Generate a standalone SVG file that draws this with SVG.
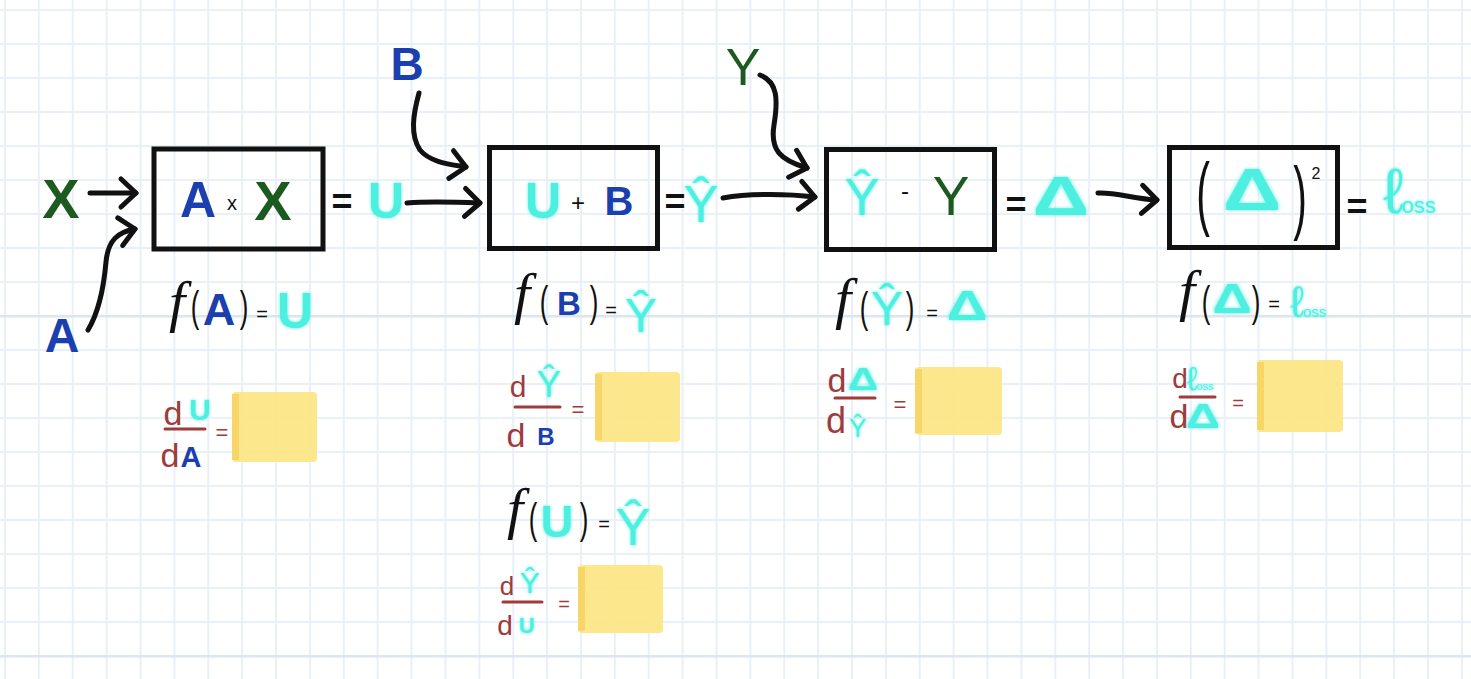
<svg xmlns="http://www.w3.org/2000/svg" width="1471" height="679" viewBox="0 0 1471 679">
<defs>
<pattern id="grid" patternUnits="userSpaceOnUse" x="4" y="9" width="33.88" height="34">
<rect x="0" y="0" width="2" height="34" fill="#e9f0f7"/>
<rect x="0" y="0" width="33.88" height="2" fill="#e9f0f7"/>
</pattern>
<filter id="glow" x="-20%" y="-20%" width="140%" height="140%">
<feGaussianBlur in="SourceGraphic" stdDeviation="1.6" result="b"/>
<feMerge><feMergeNode in="b"/><feMergeNode in="SourceGraphic"/></feMerge>
</filter>
<marker id="ah" markerUnits="userSpaceOnUse" markerWidth="44" markerHeight="44" viewBox="-24 -22 30 44" refX="0" refY="0" orient="auto">
<path d="M-15,-14 L0,0 L-15,14" fill="none" stroke="#111" stroke-width="5" stroke-linecap="round" stroke-linejoin="round"/>
</marker>
</defs>
<style>
text{font-family:"Liberation Sans","DejaVu Sans",sans-serif}
.box{fill:none;stroke:#111;stroke-width:5}
.blue{fill:#1b3fae;font-weight:bold}
.green{fill:#1d5a1f;font-weight:bold}
.greent{fill:#1d5a1f}
.cyan{fill:#4ef0e0;filter:url(#glow)}
.cyanb{fill:#4ef0e0;font-weight:bold;filter:url(#glow)}
.blk{fill:#111}
.eq{fill:#111;font-weight:bold}
.red{fill:#9e3b3b}
.f{fill:#111;font-family:"Liberation Serif","DejaVu Serif",serif;font-style:italic}
.frac{stroke:#9e3b3b;stroke-width:3;stroke-linecap:round}
.hl{fill:#fce480;opacity:0.9}
.hle{fill:#f5d25e;opacity:0.8}
.conn path{fill:none;stroke:#111;stroke-width:5;stroke-linecap:round;marker-end:url(#ah)}
</style>
<rect width="1471" height="679" fill="#ffffff"/>
<rect width="1471" height="679" fill="url(#grid)"/>
<rect x="0" y="315" width="1471" height="2.5" fill="#dbe6f0"/>
<rect x="0" y="655" width="1471" height="2.5" fill="#dbe6f0"/>

<g id="connectors" class="conn">
<path d="M90,193 L136,193"/>
<path d="M88,330 C100,310 104,285 106,262 C108,240 118,232 135,229"/>
<path d="M407,203 C430,201 455,202 480,203"/>
<path d="M419,93 C413,115 410,135 420,150 C430,162 448,164 466,167"/>
<path d="M723,198 C750,193 790,194 815,197"/>
<path d="M760,75 C778,82 778,100 774,125 C770,150 780,160 807,168"/>
<path d="M1098,193 C1115,192 1135,199 1157,200"/>
</g>

<g id="input-x"><text class="green" x="61" y="218" font-size="56" text-anchor="middle">X</text></g>
<g id="input-a"><text class="blue" x="62" y="352" font-size="48" text-anchor="middle">A</text></g>
<g id="input-b"><text class="blue" x="407" y="80" font-size="46" text-anchor="middle">B</text></g>
<g id="input-y"><text class="greent" x="743" y="85" font-size="52" text-anchor="middle">Y</text></g>

<g id="box1">
<rect class="box" x="154" y="149" width="169" height="100"/>
<text class="blue" x="198" y="217" font-size="50" text-anchor="middle">A</text>
<text class="blk" x="232" y="210" font-size="20" text-anchor="middle">x</text>
<text class="green" x="273" y="220" font-size="56" text-anchor="middle">X</text>
</g>
<g id="out-u">
<text class="eq" x="342" y="214" font-size="36" text-anchor="middle">=</text>
<text class="cyanb" x="386" y="218" font-size="50" text-anchor="middle">U</text>
</g>

<g id="box2">
<rect class="box" x="489.5" y="147.5" width="168" height="101"/>
<text class="cyanb" x="543" y="218" font-size="50" text-anchor="middle">U</text>
<text class="blk" x="578" y="211" font-size="24" text-anchor="middle">+</text>
<text class="blue" x="619" y="215" font-size="40" text-anchor="middle">B</text>
</g>
<g id="out-yhat">
<text class="eq" x="675" y="214" font-size="36" text-anchor="middle">=</text>
<text class="cyan" x="701" y="222" font-size="52" text-anchor="middle">Ŷ</text>
</g>

<g id="box3">
<rect class="box" x="826.5" y="149.5" width="168" height="100"/>
<text class="cyan" x="862" y="215" font-size="52" text-anchor="middle">Ŷ</text>
<text class="blk" x="905" y="199" font-size="24" text-anchor="middle">-</text>
<text class="greent" x="951" y="215" font-size="55" text-anchor="middle">Y</text>
</g>
<g id="out-delta">
<text class="eq" x="1016" y="217" font-size="36" text-anchor="middle">=</text>
<text class="cyanb" transform="translate(1061,215) scale(1.4,1)" font-size="56" text-anchor="middle">Δ</text>
</g>

<g id="box4">
<rect class="box" x="1169.5" y="147.5" width="168" height="100"/>
<text class="blk" transform="translate(1203,220) scale(0.5,1)" font-size="82" text-anchor="middle">(</text>
<text class="blk" transform="translate(1300,224) scale(0.5,1)" font-size="82" text-anchor="middle">)</text>
<text class="blk" x="1316" y="179" font-size="16" text-anchor="middle">2</text>
<text class="cyanb" transform="translate(1252,210) scale(1.35,1)" font-size="60" text-anchor="middle">Δ</text>
</g>
<g id="out-loss">
<text class="eq" x="1357" y="219" font-size="36" text-anchor="middle">=</text>
<text class="cyan" x="1383" y="213" font-family="DejaVu Sans" font-size="64">ℓ<tspan font-size="22" dx="-2">oss</tspan></text>
</g>

<g id="fn-a">
<text class="f" x="177" y="321" font-size="58" text-anchor="middle">f</text>
<text class="blk" transform="translate(195,321) scale(0.6,1)" font-size="43" text-anchor="middle">(</text>
<text class="blue" x="219" y="325" font-size="45" text-anchor="middle">A</text>
<text class="blk" transform="translate(244,321) scale(0.6,1)" font-size="43" text-anchor="middle">)</text>
<text class="blk" x="262" y="321" font-size="20" text-anchor="middle">=</text>
<text class="cyanb" x="295" y="328" font-size="50" text-anchor="middle">U</text>
</g>

<g id="grad-a">
<text class="red" x="173" y="425" font-size="34" text-anchor="middle">d</text>
<text class="cyanb" x="200" y="420" font-size="30" text-anchor="middle">U</text>
<line class="frac" x1="165" y1="429" x2="205" y2="429"/>
<text class="red" x="170" y="467" font-size="34" text-anchor="middle">d</text>
<text class="blue" x="191" y="467" font-size="29" text-anchor="middle">A</text>
<text class="red" x="222" y="440" font-size="22" text-anchor="middle">=</text>
<rect class="hl" x="232" y="392" width="85" height="70" rx="4"/>
<rect class="hle" x="232" y="394" width="7" height="66"/>
</g>

<g id="fn-b">
<text class="f" x="522" y="313" font-size="58" text-anchor="middle">f</text>
<text class="blk" transform="translate(544,316) scale(0.6,1)" font-size="43" text-anchor="middle">(</text>
<text class="blue" x="569" y="315" font-size="33" text-anchor="middle">B</text>
<text class="blk" transform="translate(594,316) scale(0.6,1)" font-size="43" text-anchor="middle">)</text>
<text class="blk" x="611" y="317" font-size="20" text-anchor="middle">=</text>
<text class="cyan" x="641" y="332" font-size="48" text-anchor="middle">Ŷ</text>
</g>

<g id="grad-b">
<text class="red" x="518" y="397" font-size="30" text-anchor="middle">d</text>
<text class="cyan" x="549" y="397" font-size="36" text-anchor="middle">Ŷ</text>
<line class="frac" x1="515" y1="407" x2="560" y2="407"/>
<text class="red" x="516" y="447" font-size="34" text-anchor="middle">d</text>
<text class="blue" x="546" y="445" font-size="24" text-anchor="middle">B</text>
<text class="red" x="578" y="417" font-size="22" text-anchor="middle">=</text>
<rect class="hl" x="595" y="372" width="85" height="70" rx="4"/>
<rect class="hle" x="595" y="374" width="7" height="66"/>
</g>

<g id="fn-u">
<text class="f" x="515" y="528" font-size="58" text-anchor="middle">f</text>
<text class="blk" transform="translate(533,533) scale(0.6,1)" font-size="43" text-anchor="middle">(</text>
<text class="cyanb" x="557" y="537" font-size="45" text-anchor="middle">U</text>
<text class="blk" transform="translate(584,533) scale(0.6,1)" font-size="43" text-anchor="middle">)</text>
<text class="blk" x="604" y="531" font-size="20" text-anchor="middle">=</text>
<text class="cyan" x="633" y="545" font-size="52" text-anchor="middle">Ŷ</text>
</g>

<g id="grad-u">
<text class="red" x="507" y="595" font-size="26" text-anchor="middle">d</text>
<text class="cyan" x="530" y="593" font-size="30" text-anchor="middle">Ŷ</text>
<line class="frac" x1="503" y1="602" x2="542" y2="602"/>
<text class="red" x="505" y="635" font-size="28" text-anchor="middle">d</text>
<text class="cyanb" x="527" y="633" font-size="22" text-anchor="middle">U</text>
<text class="red" x="564" y="611" font-size="20" text-anchor="middle">=</text>
<rect class="hl" x="578" y="565" width="85" height="68" rx="4"/>
<rect class="hle" x="578" y="567" width="7" height="64"/>
</g>

<g id="fn-yhat">
<text class="f" x="843" y="318" font-size="58" text-anchor="middle">f</text>
<text class="blk" transform="translate(864,322) scale(0.6,1)" font-size="43" text-anchor="middle">(</text>
<text class="cyan" x="887" y="325" font-size="48" text-anchor="middle">Ŷ</text>
<text class="blk" transform="translate(910,322) scale(0.6,1)" font-size="43" text-anchor="middle">)</text>
<text class="blk" x="932" y="320" font-size="20" text-anchor="middle">=</text>
<text class="cyanb" transform="translate(967,320) scale(1.35,1)" font-size="42" text-anchor="middle">Δ</text>
</g>

<g id="grad-yhat">
<text class="red" x="837" y="392" font-size="34" text-anchor="middle">d</text>
<text class="cyanb" transform="translate(863,390) scale(1.35,1)" font-size="31" text-anchor="middle">Δ</text>
<line class="frac" x1="835" y1="398" x2="875" y2="398"/>
<text class="red" x="836" y="433" font-size="36" text-anchor="middle">d</text>
<text class="cyan" x="858" y="437" font-size="26" text-anchor="middle">Ŷ</text>
<text class="red" x="900" y="412" font-size="22" text-anchor="middle">=</text>
<rect class="hl" x="915" y="367" width="87" height="68" rx="4"/>
<rect class="hle" x="915" y="369" width="7" height="64"/>
</g>

<g id="fn-delta">
<text class="f" x="1187" y="310" font-size="58" text-anchor="middle">f</text>
<text class="blk" transform="translate(1206,316) scale(0.6,1)" font-size="43" text-anchor="middle">(</text>
<text class="cyanb" transform="translate(1232,313) scale(1.3,1)" font-size="42" text-anchor="middle">Δ</text>
<text class="blk" transform="translate(1256,316) scale(0.6,1)" font-size="43" text-anchor="middle">)</text>
<text class="blk" x="1274" y="311" font-size="20" text-anchor="middle">=</text>
<text class="cyan" x="1290" y="317" font-family="DejaVu Sans" font-size="44">ℓ<tspan font-size="15" dx="-1">oss</tspan></text>
</g>

<g id="grad-delta">
<text class="red" x="1180" y="388" font-size="28" text-anchor="middle">d</text>
<text class="cyan" x="1187" y="390" font-family="DejaVu Sans" font-size="33">ℓ<tspan font-size="11" dx="-1">oss</tspan></text>
<line class="frac" x1="1180" y1="397" x2="1215" y2="397"/>
<text class="red" x="1179" y="428" font-size="34" text-anchor="middle">d</text>
<text class="cyanb" transform="translate(1203,428) scale(1.35,1)" font-size="35" text-anchor="middle">Δ</text>
<text class="red" x="1238" y="410" font-size="20" text-anchor="middle">=</text>
<rect class="hl" x="1257" y="360" width="86" height="72" rx="4"/>
<rect class="hle" x="1257" y="362" width="7" height="68"/>
</g>
</svg>
